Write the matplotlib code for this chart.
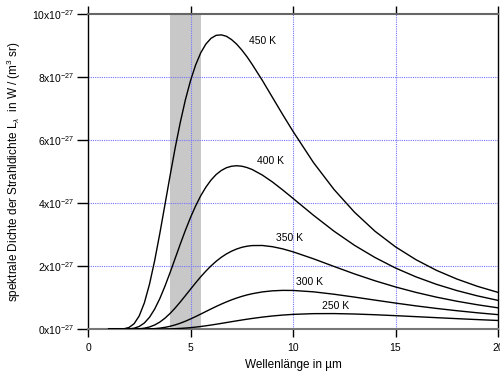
import matplotlib
matplotlib.use("Agg")
import matplotlib.pyplot as plt

plt.rcParams['font.family'] = ['Liberation Sans', 'DejaVu Sans']
plt.rcParams['mathtext.fontset'] = 'custom'
plt.rcParams['mathtext.rm'] = 'Liberation Sans'
plt.rcParams['mathtext.it'] = 'Liberation Sans:italic'

# wavelength in micrometres
wl = [1, 1.5, 1.75, 2, 2.25, 2.5, 2.75, 3, 3.25, 3.5, 3.75, 4, 4.25, 4.5, 4.75, 5,
      5.25, 5.5, 5.75, 6, 6.25, 6.5, 6.75, 7, 7.25, 7.5, 7.75, 8, 8.5, 9, 9.5, 10,
      11, 12, 13, 14, 15, 16, 17, 18, 19, 20]

# spectral radiance (x 10^-27)
L450 = [0.0, 0.001, 0.0104, 0.052, 0.1722, 0.421, 0.8358, 1.426, 2.1695, 3.026, 3.940, 4.859,
        5.747, 6.56, 7.281, 7.89, 8.388, 8.776, 9.052, 9.234, 9.329, 9.344, 9.300, 9.195,
        9.050, 8.866, 8.654, 8.415, 7.903, 7.356, 6.810, 6.281,
        5.288, 4.435, 3.712, 3.108, 2.612, 2.204, 1.866, 1.589, 1.358, 1.167]
L400 = [0.0, 0.0001, 0.0011, 0.0071, 0.0291, 0.0851, 0.1955, 0.376, 0.634, 0.965, 1.3566, 1.789,
        2.243, 2.698, 3.136, 3.544, 3.912, 4.236, 4.508, 4.732, 4.908, 5.037, 5.124, 5.172,
        5.188, 5.174, 5.132, 5.071, 4.894, 4.671, 4.418, 4.152,
        3.615, 3.110, 2.661, 2.274, 1.940, 1.659, 1.422, 1.223, 1.055, 0.913]
L350 = [0.0, 0.0, 0.0001, 0.0005, 0.0030, 0.0109, 0.0302, 0.0679, 0.1305, 0.2224, 0.3447, 0.4952,
        0.6693, 0.861, 1.0625, 1.267, 1.4691, 1.663, 1.8424, 2.007, 2.153, 2.280, 2.387, 2.474,
        2.544, 2.597, 2.632, 2.653, 2.656, 2.617, 2.548, 2.455,
        2.233, 1.990, 1.753, 1.535, 1.339, 1.166, 1.015, 0.885, 0.773, 0.676]
L300 = [0.0, 0.0, 0.0, 0.0, 0.0001, 0.0007, 0.0025, 0.0069, 0.0158, 0.0314, 0.0555, 0.0893,
        0.1335, 0.1877, 0.2511, 0.3219, 0.3984, 0.4781, 0.5593, 0.6403, 0.7187, 0.7935, 0.8638, 0.9284,
        0.9870, 1.039, 1.0844, 1.1229, 1.1813, 1.2159, 1.2303, 1.2278,
        1.184, 1.108, 1.017, 0.921, 0.827, 0.738, 0.657, 0.584, 0.518, 0.460]
L250 = [0.0, 0.0, 0.0, 0.0, 0.0, 0.0, 0.0001, 0.0003, 0.0008, 0.0020, 0.0043, 0.0081,
        0.0140, 0.0223, 0.0333, 0.0473, 0.0641, 0.0836, 0.1055, 0.1294, 0.1548, 0.1813, 0.2085, 0.2357,
        0.2626, 0.2888, 0.3140, 0.3379, 0.3812, 0.4175, 0.4464, 0.4680,
        0.4913, 0.4934, 0.4799, 0.4567, 0.4275, 0.3959, 0.3637, 0.3324, 0.3024, 0.2744]

series = [L450, L400, L350, L300, L250]
labels = ["450 K", "400 K", "350 K", "300 K", "250 K"]
label_pos = [(8.5, 9.15), (8.9, 5.35), (9.85, 2.88), (10.8, 1.5), (12.1, 0.73)]

band = (4.0, 5.5)
xticks = [0, 5, 10, 15, 20]
yticks = [0, 2, 4, 6, 8, 10]
ytick_labels = [r"%dx10$^{\mathregular{-27}}$" % v for v in yticks]

fig = plt.figure(figsize=(5.0, 3.74), dpi=100)
ax = fig.add_axes([0.176, 0.12, 0.82, 0.842])

ax.axvspan(band[0], band[1], ymin=0, ymax=1, color="#c8c8c8", lw=0, zorder=0)

for v in [5, 10, 15]:
    ax.axvline(v, color=(0.45, 0.45, 1.0), lw=0.8, ls=(0, (1, 1)), zorder=1)
for v in [2, 4, 6, 8]:
    ax.axhline(v, color=(0.45, 0.45, 1.0), lw=0.8, ls=(0, (1, 1)), zorder=1)

for s in series:
    ax.plot(wl, s, color="black", lw=1.0, zorder=3,
            solid_joinstyle="round", solid_capstyle="round")

for lab, (x, y) in zip(labels, label_pos):
    ax.text(x, y, lab, fontsize=7.5, ha="center", va="center", zorder=4)

ax.set_xlim(0, 20)
ax.set_ylim(0, 10)
ax.set_xticks(xticks)
ax.set_xticklabels([str(v) for v in xticks], fontsize=7.5)
ax.set_yticks(yticks)
ax.set_yticklabels(ytick_labels, fontsize=7.5)

ax.tick_params(axis="x", which="both", direction="out", length=6, width=1,
               top=True, bottom=True, labeltop=False, pad=4)
ax.tick_params(axis="y", which="both", direction="out", length=8, width=1,
               left=True, right=False, pad=2)

ax.spines["top"].set_color("#666666")
ax.spines["top"].set_linewidth(1.5)
ax.spines["bottom"].set_color("#777777")
ax.spines["bottom"].set_linewidth(1.5)
ax.spines["left"].set_color("black")
ax.spines["left"].set_linewidth(1.0)
ax.spines["right"].set_color("black")
ax.spines["right"].set_linewidth(1.0)

ax.set_xlabel("Wellenlänge in µm", fontsize=8.5, labelpad=4)
ax.set_ylabel(r"spektrale Dichte der Strahldichte L$_{\lambda}$  in W / (m$^{\mathregular{3}}$ sr)",
              fontsize=8.5, labelpad=6)

fig.savefig("out.png", dpi=100)
